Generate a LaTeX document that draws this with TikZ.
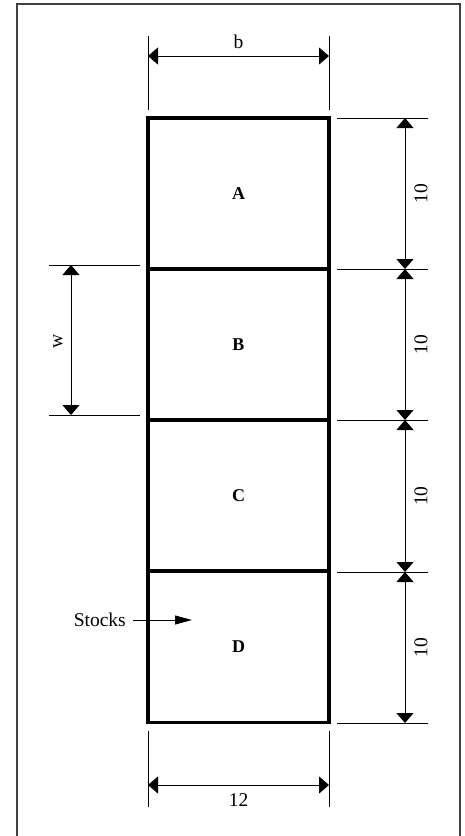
\documentclass[tikz,border=0pt]{standalone}
\usepackage{fontspec}
\setmainfont{Liberation Serif}
\usetikzlibrary{arrows.meta}
\begin{document}
\begin{tikzpicture}[x=1pt,y=-1pt,
  thinline/.style={line width=1pt, black},
  dimline/.style={line width=1pt, black, {Triangle[length=10pt,width=17pt]}-{Triangle[length=10pt,width=17pt]}},
  boxpart/.style={draw, line width=3.2pt, minimum width=181pt, minimum height=151pt, inner sep=0pt, font=\fontsize{18}{21}\selectfont\bfseries},
  lbl/.style={inner sep=1pt, font=\fontsize{19.5}{22}\selectfont},
  frameline/.style={line width=1.1pt, black!75}
]
\useasboundingbox (0,0) rectangle (465,836);
% outer frame (open at bottom)
\coordinate (f1) at (17,836);
\coordinate (f2) at (17,4);
\coordinate (f3) at (460,4);
\coordinate (f4) at (460,836);
\draw[frameline] (f1) -- (f2) -- (f3) -- (f4);

% stacked boxes
\node[boxpart] (A) at (238.5,193.5) {A};
\node[boxpart] (B) at (238.5,344.5) {B};
\node[boxpart] (C) at (238.5,495.5) {C};
\node[boxpart] (D) at (238.5,647) {D};

% top dimension b
\coordinate (bl1) at (148,36); \coordinate (bl2) at (148,110);
\coordinate (br1) at (329,36); \coordinate (br2) at (329,110);
\draw[thinline] (bl1) -- (bl2);
\draw[thinline] (br1) -- (br2);
\coordinate (ba) at (148,56); \coordinate (bb) at (329,56);
\draw[dimline] (ba) -- (bb);
\node[lbl] (blab) at (238.5,42) {b};

% bottom dimension 12
\coordinate (dl1) at (148,731); \coordinate (dl2) at (148,807);
\coordinate (dr1) at (329,731); \coordinate (dr2) at (329,807);
\draw[thinline] (dl1) -- (dl2);
\draw[thinline] (dr1) -- (dr2);
\coordinate (da) at (148,785); \coordinate (db) at (329,785);
\draw[dimline] (da) -- (db);
\node[lbl] (twelve) at (238.5,800) {12};

% right dimensions
\foreach \y [count=\i] in {118,269,420,572,723}{
  \coordinate (re\i a) at (337,\y);
  \coordinate (re\i b) at (428,\y);
  \coordinate (rd\i) at (405,\y);
  \draw[thinline] (re\i a) -- (re\i b);
}
\draw[dimline] (rd1) -- (rd2);
\draw[dimline] (rd2) -- (rd3);
\draw[dimline] (rd3) -- (rd4);
\draw[dimline] (rd4) -- (rd5);
\node[lbl, rotate=90] (t1) at (421,193.5) {10};
\node[lbl, rotate=90] (t2) at (421,344.5) {10};
\node[lbl, rotate=90] (t3) at (421,496) {10};
\node[lbl, rotate=90] (t4) at (421,647.5) {10};

% left dimension w
\coordinate (w1a) at (49,265); \coordinate (w1b) at (140,265);
\coordinate (w2a) at (49,415); \coordinate (w2b) at (140,415);
\draw[thinline] (w1a) -- (w1b);
\draw[thinline] (w2a) -- (w2b);
\coordinate (wt) at (71,265); \coordinate (wb) at (71,415);
\draw[dimline] (wt) -- (wb);
\node[lbl, rotate=90] (wlab) at (58,341) {w};

% stocks
\node[lbl, anchor=east] (stocks) at (127,620) {Stocks};
\coordinate (stip) at (192,620);
\draw[thinline, -{Triangle[length=17pt,width=9pt]}] (stocks.east) ++(6,0) -- (stip);
\end{tikzpicture}
\end{document}
